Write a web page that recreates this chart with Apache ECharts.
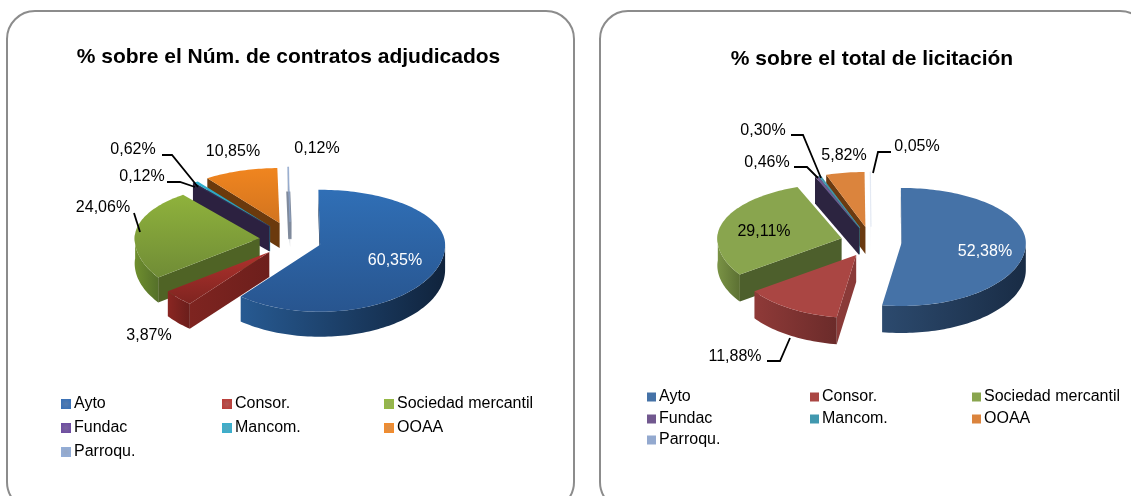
<!DOCTYPE html>
<html><head><meta charset="utf-8">
<style>html,body{margin:0;padding:0;background:#fff}#c{width:1131px;height:496px}</style>
<script src="https://cdn.jsdelivr.net/npm/echarts@6/dist/echarts.min.js"></script>
</head><body><div id="c"></div>
<script>
var categories = ['Ayto','Consor.','Sociedad mercantil','Fundac','Mancom.','OOAA','Parroqu.'];
var leftValues = [60.35,3.87,24.06,0.12,0.62,10.85,0.12];
var rightValues = [52.38,11.88,29.11,0.46,0.30,5.82,0.05];
var leftTitle = '% sobre el Núm. de contratos adjudicados';
var rightTitle = '% sobre el total de licitación';

var FONT = '"Liberation Sans", Arial, sans-serif';
var G = echarts.graphic;
function lin(h, a, b){ return new G.LinearGradient(0,0,h?1:0,h?0:1,[{offset:0,color:a},{offset:1,color:b}]); }

var leftStyle = {
  top:   [['#306fb6','#28558f'],['#b0322d','#7e2420'],['#8fb23c','#708c36'],['#33264d','#2b2040'],['#2fb0cf','#2590ab'],['#f0851f','#d2741f'],['#8fa6cc','#8fa6cc']],
  outer: [['#275a92','#10233c'],['#8a2622','#6a1e1b'],['#6f8f2e','#55702a'],['#2c2140','#2c2140'],['#1f7f98','#1f7f98'],['#8a4d14','#6a3a0c'],['#7d8899','#7d8899']],
  side:  [['#1c3a60','#1c3a60'],['#7e2420','#6d1f1c'],['#4f6325','#4f6325'],['#2c2140','#2c2140'],['#1f7f98','#1f7f98'],['#6b3a0d','#6b3a0d'],['#7b8696','#8d97a6']],
  legend:['#2b5c9a','#9e2f2b','#7c9c34','#5a3d87','#2b93ae','#d0741f','#7b92b8'],
  sliver:'#7f8a9c'
};
var rightStyle = {
  top:   [['#4572a7','#4572a7'],['#aa4643','#aa4643'],['#89a54e','#89a54e'],['#71588f','#71588f'],['#4198af','#4198af'],['#db843d','#db843d'],['#dfe6f2','#dfe6f2']],
  outer: [['#2c4a6e','#192c45'],['#8f3a38','#6b2b2a'],['#7a9345','#5c7033'],['#2c2440','#2c2440'],['#2d6a7b','#2d6a7b'],['#8a4d14','#6a3a0c'],['#eef2f8','#eef2f8']],
  side:  [['#1b2e48','#1b2e48'],['#8a3a38','#8a3a38'],['#4d5f2c','#4d5f2c'],['#2c2440','#2c2440'],['#2d6a7b','#2d6a7b'],['#6b3a10','#6b3a10'],['#f2f4f8','#f2f4f8']],
  legend:['#4572a7','#aa4643','#89a54e','#71588f','#4198af','#db843d','#93a9cf']
};
var pieLeft  = {values:leftValues,  style:leftStyle,  bx:290.6, by:239.4, ex:31,   ey:17.5, rx:125,   ryU:55, ryD:67, depth:25, rot:-0.8};
var pieRight = {values:rightValues, style:rightStyle, bx:871.2, by:241.9, ex:30.4, ey:15.2, rx:124.3, ryU:55, ryD:63, depth:27, rot:-0.3};

function makeSeries(pie){
  var total = pie.values.reduce(function(a,b){return a+b;},0), run = 0, items = [];
  pie.values.forEach(function(v,i){
    var s = run/total*360 + pie.rot, e = (run+v)/total*360 + pie.rot; run += v;
    items.push({i:i, s:s, e:e, mid:(s+e)/2});
  });
  function depthKey(m){ return -Math.cos(m*Math.PI/180); }
  items.sort(function(a,b){ return depthKey(a.mid)-depthKey(b.mid); });
  return items.map(function(it){
    return {
      type:'custom', name:categories[it.i], coordinateSystem:'none', silent:true, animation:false,
      data:[[it.s, it.e, it.i]],
      renderItem:function(params, api){
        var s = api.value(0), e = api.value(1), i = api.value(2), D = Math.PI/180;
        var m = (s+e)/2*D;
        var ax = pie.bx + pie.ex*Math.sin(m), ay = pie.by - pie.ey*Math.cos(m);
        // perspective: the left half of the disc is slightly compressed in angle, more towards the back
        function warp(t){
          if (!(t>180 && t<360)) return t;
          var amp = 5 + 3.5*Math.max(0,Math.cos(t*D));
          return t - amp*Math.sin(t*D);
        }
        function pt(t){ var r=warp(t)*D, c=Math.cos(r);
          return [ax + pie.rx*Math.sin(r), ay - c*(c>0?pie.ryU:pie.ryD)]; }
        function arc(a,b){ var o=[], n=Math.max(1,Math.ceil(Math.abs(b-a)/1.5));
          for(var k=0;k<=n;k++) o.push(pt(a+(b-a)*k/n)); return o; }
        function down(p){ return [p[0],p[1]+pie.depth]; }
        function poly(points, fill, stroke, w){
          return {type:'polygon', shape:{points:points}, style:{fill:fill, stroke:stroke||null, lineWidth:w||0}};
        }
        var kids = [], st = pie.style, thin = (e-s) < 1.5;
        var sideC = st.side[i], outC = st.outer[i], topC = st.top[i];
        if (Math.sin(s*D) < 0) {
          var p = pt(s);
          var stroke = null, w = 0;
          if (i===6 && st.sliver) {
            stroke = new G.LinearGradient(0,0,0,1,[
              {offset:0,color:'rgba(255,255,255,0)'},{offset:0.3,color:'rgba(255,255,255,0)'},
              {offset:0.32,color:st.sliver},{offset:0.88,color:st.sliver},{offset:0.9,color:'rgba(255,255,255,0)'},{offset:1,color:'rgba(255,255,255,0)'}]);
            w = 3;
          }
          kids.push(poly([[ax,ay],p,down(p),[ax,ay+pie.depth]], lin(true,sideC[0],sideC[1]), stroke, w));
        }
        if (Math.sin(e*D) > 0) {
          var q = pt(e);
          kids.push(poly([[ax,ay],q,down(q),[ax,ay+pie.depth]], lin(true,sideC[0],sideC[1])));
        }
        var a0 = Math.max(s,90), a1 = Math.min(e,270);
        if (a1 > a0) {
          var rim = arc(a0,a1), low = rim.map(down).reverse();
          kids.push(poly(rim.concat(low), lin(true,outC[0],outC[1])));
        }
        kids.push(poly([[ax,ay]].concat(arc(s,e)), lin(false,topC[0],topC[1]), thin?topC[0]:null, thin?0.6:0));
        return {type:'group', children:kids};
      }
    };
  });
}

function legends(style, x0s, ys, size, textGap, bevel){
  return categories.map(function(n,i){
    var base = style.legend[i];
    var col = bevel ? new G.RadialGradient(0.5,0.5,0.7,[{offset:0,color:echarts.color.lift(base,0.2)},{offset:1,color:echarts.color.lift(base,-0.2)}]) : base;
    return {
      left:x0s[i%3], top:ys[Math.floor(i/3)], padding:0, itemWidth:size, itemHeight:size, icon:'rect',
      selectedMode:false,
      data:[{name:n, icon:'rect', itemStyle:{color:col}}],
      textStyle:{fontFamily:FONT, fontSize:16, color:'#000', padding:[0,0,0,textGap], lineHeight:size}
    };
  });
}

function label(text,x,y,color){
  return {type:'text', z:100, x:x, y:y+1, style:{text:text, fill:color||'#000', font:'16px '+FONT, align:'center', verticalAlign:'middle'}};
}
function fmt(v){ return v.toFixed(2).replace('.',',')+'%'; }
function leader(pts){
  return {type:'polyline', z:99, shape:{points:pts}, style:{stroke:'#000', lineWidth:1.8, fill:null}};
}
function frame(x,y,w,h){
  return {type:'rect', z:0, shape:{x:x,y:y,width:w,height:h,r:28}, style:{fill:'#fff', stroke:'#8c8c8c', lineWidth:2}};
}

var option = {
  backgroundColor:'#fff', animation:false,
  title:[
    {text:leftTitle, left:288, top:42, textAlign:'center', textStyle:{fontFamily:FONT, fontSize:21, fontWeight:'bold', color:'#000'}},
    {text:rightTitle, left:872, top:44, textAlign:'center', textStyle:{fontFamily:FONT, fontSize:21, fontWeight:'bold', color:'#000'}}
  ],
  legend: legends(leftStyle,[61,222,384],[396,420,444],10,-2,true)
    .concat(legends(rightStyle,[647,810,972],[389,411,432],9,-2,false)),
  graphic:{elements:[
    frame(7,11,567,499), frame(600,11,548,499),
    label(fmt(leftValues[0]),395,260,'#fff'),
    label(fmt(leftValues[1]),149,335),
    label(fmt(leftValues[2]),103,207),
    label(fmt(leftValues[3]),142,176),
    label(fmt(leftValues[4]),133,149),
    label(fmt(leftValues[5]),233,151),
    label(fmt(leftValues[6]),317,148),
    leader([[162,155],[172,155],[198,187]]),
    leader([[167,182],[180,182],[195,187]]),
    leader([[134,213],[140,232]]),
    label(fmt(rightValues[0]),985,251,'#fff'),
    label(fmt(rightValues[1]),735,356),
    label(fmt(rightValues[2]),764,231),
    label(fmt(rightValues[3]),767,162),
    label(fmt(rightValues[4]),763,130),
    label(fmt(rightValues[5]),844,155),
    label(fmt(rightValues[6]),917,146),
    leader([[791,135],[803,135],[821,178]]),
    leader([[794,167],[807,167],[818,178]]),
    leader([[891,152],[878,152],[873,173]]),
    leader([[767,361],[780,361],[790,338]])
  ]},
  series: makeSeries(pieLeft).concat(makeSeries(pieRight))
};
option.title[0].left = 283.5;
option.title[1].left = 867;
var chart = echarts.init(document.getElementById('c'), null, {renderer:'canvas'});
chart.setOption(option);
</script></body></html>
